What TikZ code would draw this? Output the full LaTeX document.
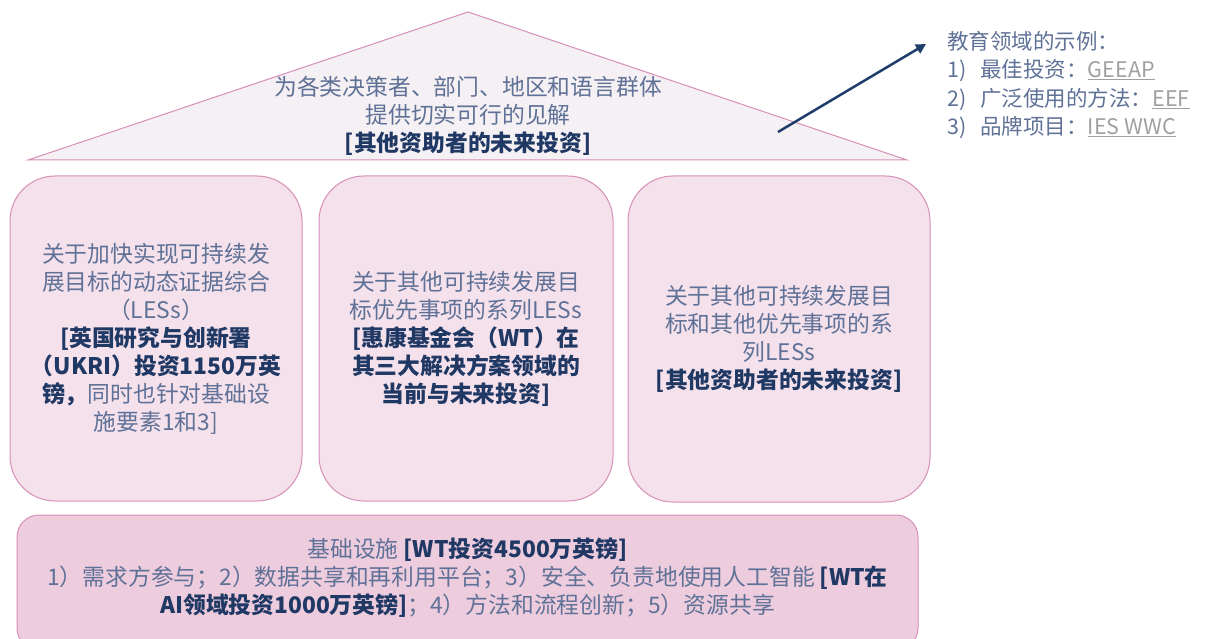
\documentclass[tikz,border=0pt]{standalone}
\usepackage{fontspec}
\setmainfont{Noto Sans CJK SC}
\usetikzlibrary{arrows.meta}
\definecolor{txt}{HTML}{5F7196}
\definecolor{bld}{HTML}{203864}
\definecolor{edge}{HTML}{D68FB8}
\definecolor{fillA}{HTML}{F4E1EC}
\definecolor{fillB}{HTML}{EDCCDE}
\definecolor{fillT}{HTML}{F5F0F3}
\definecolor{arrowc}{HTML}{1F3D6B}
\definecolor{linkc}{HTML}{A0A0A0}
\newcommand{\bb}[1]{{\bfseries\color{bld}#1}}
\newcommand{\lnk}[1]{{\color{linkc}\underline{#1}}}
\begin{document}
\begin{tikzpicture}[x=1pt,y=-1pt,
  pillar/.style={draw=edge, fill=fillA, line width=1pt, rounded corners=45pt, inner sep=0pt},
  basebox/.style={draw=edge, fill=fillB, line width=1pt, rounded corners=22pt, inner sep=0pt},
  body/.style={align=center, text=txt, font=\fontsize{22.8}{28}\selectfont},
  note/.style={align=left, text=txt, font=\fontsize{21.5}{28.5}\selectfont, inner sep=0pt},
]
\useasboundingbox (0,0) rectangle (1209,639);

% roof
\coordinate (apex) at (468,12);
\coordinate (bl) at (28,160);
\coordinate (br) at (907,160);
\draw[draw=edge, fill=fillT, line width=1pt] (apex) -- (br) -- (bl) -- cycle;
\node[body, inner sep=0pt] (roof) at (468,116) {为各类决策者、部门、地区和语言群体\\提供切实可行的见解\\\bb{[其他资助者的未来投资]}};

% pillars
\node[pillar, minimum width=292pt, minimum height=325pt] (p1) at (156,338.5) {};
\node[body, inner sep=0pt] (t1) at (p1.center) {关于加快实现可持续发\\展目标的动态证据综合\\（LESs）\\\bb{[英国研究与创新署}\\\bb{（UKRI）投资1150万英}\\\bb{镑，}同时也针对基础设\\施要素1和3]};

\node[pillar, minimum width=294pt, minimum height=325pt] (p2) at (466,338.5) {};
\node[body, inner sep=0pt] (t2) at (p2.center) {关于其他可持续发展目\\标优先事项的系列LESs\\\bb{[惠康基金会（WT）在}\\\bb{其三大解决方案领域的}\\\bb{当前与未来投资]}};

\node[pillar, minimum width=302pt, minimum height=326pt] (p3) at (779,339) {};
\node[body, inner sep=0pt] (t3) at (p3.center) {关于其他可持续发展目\\标和其他优先事项的系\\列LESs\\\bb{[其他资助者的未来投资]}};

% base
\node[basebox, minimum width=901pt, minimum height=135pt] (b) at (467.5,582.5) {};
\node[body, inner sep=0pt] (tb) at (467.5,578) {基础设施 \bb{[WT投资4500万英镑]}\\1）需求方参与；2）数据共享和再利用平台；3）安全、负责地使用人工智能 \bb{[WT在}\\\bb{AI领域投资1000万英镑]}；4）方法和流程创新；5）资源共享};

% arrow and examples
\coordinate (a0) at (778,132);
\coordinate (a1) at (926,44);
\draw[arrowc, line width=2.5pt, -{Triangle[length=10pt,width=10pt]}] (a0) -- (a1);
\node[note, anchor=north west] (ex) at (947,31) {教育领域的示例：\\1)\hspace{14pt}最佳投资：\lnk{GEEAP}\\2)\hspace{14pt}广泛使用的方法：\lnk{EEF}\\3)\hspace{14pt}品牌项目：\lnk{IES WWC}};
\end{tikzpicture}
\end{document}
